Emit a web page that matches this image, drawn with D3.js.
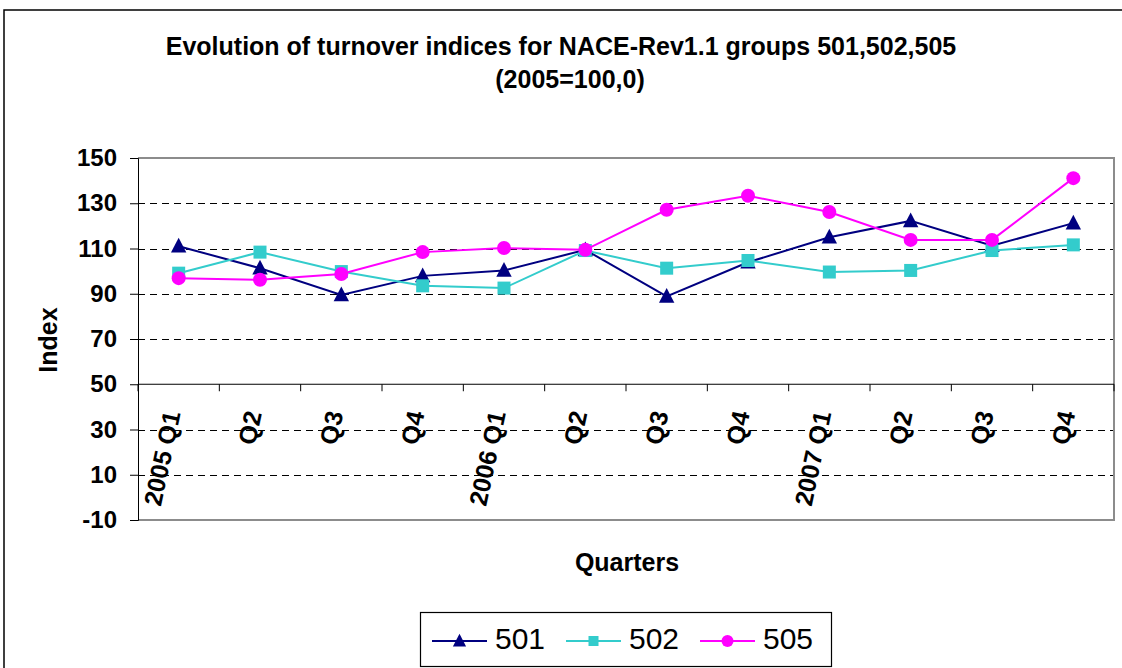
<!DOCTYPE html>
<html>
<head>
<meta charset="utf-8">
<script src="https://cdn.jsdelivr.net/npm/d3@7"></script>
<style>
  body { margin: 0; background: #fff; }
  svg { display: block; font-family: "Liberation Sans", Arial, sans-serif; }
</style>
</head>
<body>
<div id="chart"></div>
<script>
const quarters = ["2005 Q1", "Q2", "Q3", "Q4", "2006 Q1", "Q2", "Q3", "Q4", "2007 Q1", "Q2", "Q3", "Q4"]
const values501 = [111, 101.3, 89.5, 97.9, 100.3, 109.4, 88.8, 103.9, 115, 122.2, 111.2, 121.2]
const values502 = [99.1, 108.4, 99.8, 93.5, 92.5, 109.1, 101.3, 104.7, 99.6, 100.3, 109.1, 111.6]
const values505 = [96.9, 96.2, 98.7, 108.4, 110.2, 109.4, 127.1, 133.3, 126.1, 113.8, 113.8, 141.1]
const yTicks = [-10, 10, 30, 50, 70, 90, 110, 130, 150]
const seriesNames = ["501", "502", "505"]

const series = [
    {name: seriesNames[0], values: values501, color: "#000080", marker: "triangle"},
    {name: seriesNames[1], values: values502, color: "#33CCCC", marker: "square"},
    {name: seriesNames[2], values: values505, color: "#FF00FF", marker: "circle"},
]

const width = 1122
const height = 668
const plot = {left: 138, right: 1114, top: 158, bottom: 520}

const svg = d3.select("#chart").append("svg")
    .attr("width", width)
    .attr("height", height)

// outer chart border (only top and left visible)
svg.append("path")
    .attr("d", `M4,${height + 5} L4,10 L${width + 5},10`)
    .attr("fill", "none")
    .attr("stroke", "#000")
    .attr("stroke-width", 1.5)

const x = d3.scaleBand()
    .domain(d3.range(quarters.length))
    .range([plot.left, plot.right])

const y = d3.scaleLinear()
    .domain([-10, 150])
    .range([plot.bottom, plot.top])

// title
const title = svg.append("text")
    .attr("text-anchor", "middle")
    .attr("font-weight", "bold")
    .attr("font-size", 25)
title.append("tspan").attr("x", 561).attr("y", 55)
    .text("Evolution of turnover indices for NACE-Rev1.1 groups 501,502,505")
title.append("tspan").attr("x", 570).attr("y", 88)
    .text("(2005=100,0)")

// gridlines
svg.append("g")
    .selectAll("line")
    .data(yTicks.filter(d => d !== 50 && d !== 150 && d !== -10))
    .join("line")
        .attr("x1", plot.left)
        .attr("x2", plot.right)
        .attr("y1", d => Math.round(y(d)) + 0.5)
        .attr("y2", d => Math.round(y(d)) + 0.5)
        .attr("stroke", "#000")
        .attr("stroke-dasharray", "7,5")

// plot border top/right/bottom in gray
svg.append("path")
    .attr("d", `M${plot.left},${plot.top} L${plot.right},${plot.top} L${plot.right},${plot.bottom} L${plot.left},${plot.bottom}`)
    .attr("fill", "none")
    .attr("stroke", "#8c8c8c")
    .attr("stroke-width", 2)

// y axis
const yAxis = svg.append("g")
    .attr("transform", `translate(${plot.left},0)`)
    .call(d3.axisLeft(y).tickValues(yTicks).tickSize(8).tickPadding(13).tickFormat(d => String(d)))
yAxis.select(".domain").attr("stroke", "#000")
yAxis.selectAll("text")
    .attr("font-size", 24)
    .attr("font-weight", "bold")
    .attr("font-family", "Liberation Sans, Arial, sans-serif")
    .attr("fill", "#000")

// x axis line at value 50
const xAxisY = y(50)
svg.append("line")
    .attr("x1", plot.left)
    .attr("x2", plot.right)
    .attr("y1", xAxisY)
    .attr("y2", xAxisY)
    .attr("stroke", "#000")
    .attr("stroke-width", 1.2)

svg.append("g")
    .selectAll("line")
    .data(d3.range(quarters.length + 1))
    .join("line")
        .attr("x1", d => plot.left + d * x.step())
        .attr("x2", d => plot.left + d * x.step())
        .attr("y1", xAxisY)
        .attr("y2", xAxisY + 7)
        .attr("stroke", "#000")

svg.append("g")
    .selectAll("text")
    .data(quarters)
    .join("text")
        .attr("transform", (d, i) => `translate(${x(i) + x.bandwidth() / 2 + 2},${xAxisY + 29}) rotate(-78)`)
        .attr("text-anchor", "end")
        .attr("font-size", 25)
        .attr("font-weight", "bold")
        .text(d => d)

// axis titles
svg.append("text")
    .attr("transform", `translate(57,340) rotate(-90)`)
    .attr("text-anchor", "middle")
    .attr("font-size", 25)
    .attr("font-weight", "bold")
    .text("Index")

svg.append("text")
    .attr("x", (plot.left + plot.right) / 2 + 1)
    .attr("y", 571)
    .attr("text-anchor", "middle")
    .attr("font-size", 25)
    .attr("font-weight", "bold")
    .text("Quarters")

// markers
function drawMarker(sel, type, size, color) {
    if (type === "triangle") {
        const h = size
        sel.append("path")
            .attr("d", `M0,${-h * 0.6} L${h * 0.55},${h * 0.45} L${-h * 0.55},${h * 0.45} Z`)
            .attr("fill", color)
    } else if (type === "square") {
        sel.append("rect")
            .attr("x", -size / 2).attr("y", -size / 2)
            .attr("width", size).attr("height", size)
            .attr("fill", color)
    } else {
        sel.append("circle")
            .attr("r", size / 2)
            .attr("fill", color)
    }
}

const markerSize = {triangle: 14, square: 13, circle: 14}
const legendMarkerSize = {triangle: 12, square: 10, circle: 12}

const line = d3.line()
    .x((d, i) => x(i) + x.bandwidth() / 2)
    .y(d => y(d))

series.forEach(s => {
    svg.append("path")
        .datum(s.values)
        .attr("d", line)
        .attr("fill", "none")
        .attr("stroke", s.color)
        .attr("stroke-width", 2)

    svg.append("g")
        .selectAll("g")
        .data(s.values)
        .join("g")
            .attr("transform", (d, i) => `translate(${x(i) + x.bandwidth() / 2},${y(d)})`)
            .each(function () { drawMarker(d3.select(this), s.marker, markerSize[s.marker], s.color) })
})

// legend
const legend = svg.append("g")
legend.append("rect")
    .attr("x", 420.5).attr("y", 612.5)
    .attr("width", 411).attr("height", 54)
    .attr("fill", "#fff")
    .attr("stroke", "#000")
    .attr("stroke-width", 1.2)

const legendItems = legend.selectAll(".item")
    .data(series)
    .join("g")
        .attr("class", "item")
        .attr("transform", (d, i) => `translate(${432 + i * 134},641)`)

legendItems.append("line")
    .attr("x1", 0).attr("x2", 55)
    .attr("stroke", d => d.color)
    .attr("stroke-width", 2)
legendItems.each(function (d) {
    const g = d3.select(this).append("g").attr("transform", "translate(27.5,0)")
    drawMarker(g, d.marker, legendMarkerSize[d.marker], d.color)
})
legendItems.append("text")
    .attr("x", 63)
    .attr("y", 8)
    .attr("font-size", 30)
    .text(d => d.name)
</script>
</body>
</html>
